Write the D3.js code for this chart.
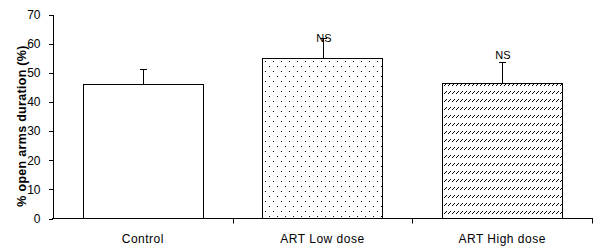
<!DOCTYPE html>
<html>
<head>
<meta charset="utf-8">
<script src="https://cdn.jsdelivr.net/npm/d3@7"></script>
<style>
	body { margin: 0; background: #fff; }
	text { font-family: "Liberation Sans", Arial, sans-serif; fill: #000; }
</style>
</head>
<body>
<script>
// data
var groups = ['Control', 'ART Low dose', 'ART High dose'];
var means = [46.2, 55.0, 46.4];
var errTop = [51.2, 62.0, 53.8];
var sigLabels = ['', 'NS', 'NS'];
var sigLabelAt = [null, 60.5, 54.6];
var fills = ['#fff', 'url(#dots)', 'url(#hatch)'];
var yTicks = [0, 10, 20, 30, 40, 50, 60, 70];

var width = 604, height = 251;

var svg = d3.select('body').append('svg')
	.attr('width', width)
	.attr('height', height);

// patterns
var defs = svg.append('defs');
var dots = defs.append('pattern')
	.attr('id', 'dots')
	.attr('patternUnits', 'userSpaceOnUse')
	.attr('x', 263).attr('y', 0)
	.attr('width', 8).attr('height', 10);
dots.append('rect').attr('width', 8).attr('height', 10).attr('fill', '#fff');
dots.append('rect').attr('x', 2).attr('y', 1).attr('width', 1).attr('height', 1).attr('fill', '#000');
dots.append('rect').attr('x', 6).attr('y', 6).attr('width', 1).attr('height', 1).attr('fill', '#000');

var hatch = defs.append('pattern')
	.attr('id', 'hatch')
	.attr('patternUnits', 'userSpaceOnUse')
	.attr('x', 443).attr('y', 1)
	.attr('width', 4).attr('height', 8);
hatch.append('rect').attr('width', 4).attr('height', 8).attr('fill', '#fff');
[[0, 3], [1, 2], [2, 1]].forEach(function (p) {
	hatch.append('rect').attr('x', p[0] + 1).attr('y', p[1] + 1).attr('width', 1).attr('height', 1).attr('fill', '#000');
});

// scales
var x = d3.scaleBand()
	.domain(groups)
	.range([53, 592])
	.padding(0);
var barW = x.bandwidth() * 0.67;

var y = d3.scaleLinear()
	.domain([0, 70])
	.range([218.5, 14.5]);

// bars
var g = svg.append('g');
g.selectAll('rect.bar')
	.data(groups)
	.enter().append('rect')
		.attr('class', 'bar')
		.attr('x', function (d) { return Math.round(x(d) + x.bandwidth() / 2 - barW / 2) + 0.5; })
		.attr('y', function (d, i) { return Math.round(y(means[i])) + 0.5; })
		.attr('width', Math.round(barW))
		.attr('height', function (d, i) { return y(0) - Math.round(y(means[i])) - 0.5; })
		.attr('fill', function (d, i) { return fills[i]; })
		.attr('stroke', '#000')
		.attr('stroke-width', 1);

// error bars (upper only)
var cx = function (d) { return Math.round(x(d) + x.bandwidth() / 2) + 0.5; };
g.selectAll('line.err')
	.data(groups)
	.enter().append('line')
		.attr('x1', cx).attr('x2', cx)
		.attr('y1', function (d, i) { return Math.round(y(means[i])); })
		.attr('y2', function (d, i) { return Math.round(y(errTop[i])) + 0.5; })
		.attr('stroke', '#000');
g.selectAll('line.cap')
	.data(groups)
	.enter().append('line')
		.attr('x1', function (d) { return cx(d) - 3.5; })
		.attr('x2', function (d) { return cx(d) + 3.5; })
		.attr('y1', function (d, i) { return Math.round(y(errTop[i])) + 0.5; })
		.attr('y2', function (d, i) { return Math.round(y(errTop[i])) + 0.5; })
		.attr('stroke', '#000');

// NS labels
g.selectAll('text.sig')
	.data(groups)
	.enter().append('text')
		.attr('x', function (d) { return cx(d) + 0.5; })
		.attr('y', function (d, i) { return sigLabelAt[i] == null ? 0 : y(sigLabelAt[i]); })
		.attr('text-anchor', 'middle')
		.style('font-size', '11px')
		.text(function (d, i) { return sigLabels[i]; });

// y axis
var yAxis = d3.axisLeft(y)
	.tickValues(yTicks)
	.tickSize(4)
	.tickPadding(8)
	.tickSizeOuter(0);
var ya = svg.append('g')
	.attr('transform', 'translate(52.5,0)')
	.call(yAxis);
ya.selectAll('text')
	.style('font-size', '12px')
	.attr('font-family', null);

// x axis
var xAxis = d3.axisBottom(x)
	.tickSize(0)
	.tickPadding(16)
	.tickSizeOuter(0);
var xa = svg.append('g')
	.attr('transform', 'translate(0,218.5)')
	.call(xAxis);
xa.select('.domain').attr('d', 'M52,0H592.5');
xa.selectAll('text')
	.style('font-size', '12px')
	.style('letter-spacing', '0.5px')
	.attr('font-family', null);
// boundary ticks between categories
xa.selectAll('line.bound')
	.data(groups)
	.enter().append('line')
		.attr('class', 'bound')
		.attr('x1', function (d) { return Math.round(x(d) + x.bandwidth()) + 0.5; })
		.attr('x2', function (d) { return Math.round(x(d) + x.bandwidth()) + 0.5; })
		.attr('y1', 0).attr('y2', 5)
		.attr('stroke', '#000');
svg.selectAll('.domain, .tick line').attr('shape-rendering', 'crispEdges');

// y axis title
svg.append('text')
	.attr('transform', 'translate(26,126) rotate(-90)')
	.attr('text-anchor', 'middle')
	.style('font-size', '12.5px')
	.style('font-weight', 'bold')
	.style('letter-spacing', '0.3px')
	.text('% open arms duration (%)');
</script>
</body>
</html>
